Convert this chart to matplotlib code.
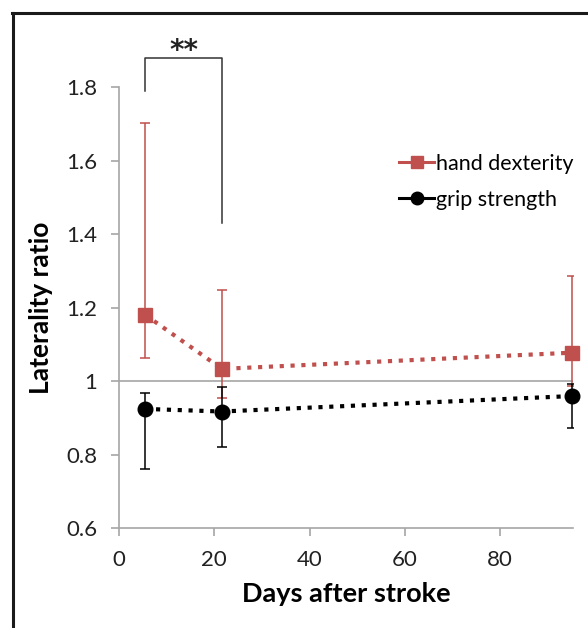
import matplotlib
matplotlib.use('Agg')
import matplotlib.pyplot as plt
from matplotlib.lines import Line2D

plt.rcParams['font.family'] = ['Lato', 'DejaVu Sans']

# data
days = [5.5, 21.6, 95]
dex = [1.18, 1.033, 1.077]
dex_lo = [1.063, 0.954, 0.986]
dex_hi = [1.702, 1.247, 1.287]
grip = [0.924, 0.917, 0.959]
grip_lo = [0.760, 0.821, 0.871]
grip_hi = [0.968, 0.985, 0.992]
xticks = [0, 20, 40, 60, 80]
yticks = [0.6, 0.8, 1.0, 1.2, 1.4, 1.6, 1.8]
ylabels = ['0.6', '0.8', '1', '1.2', '1.4', '1.6', '1.8']

RED = '#c0504d'
GRAY = '#a6a6a6'

fig = plt.figure(figsize=(5.88, 6.28), dpi=100)
ax = fig.add_axes([119/588, 1-528/628, (573-119)/588, (528-87)/628])

# reference line at 1
ax.axhline(1.0, color=GRAY, lw=1.2, zorder=1)

def err(vals, lo, hi):
    return [[v - l for v, l in zip(vals, lo)], [h - v for v, h in zip(vals, hi)]]

ax.errorbar(days, dex, yerr=err(dex, dex_lo, dex_hi), fmt='none', ecolor=RED,
            elinewidth=1.1, capsize=3.5, capthick=1.1, zorder=2)
ax.errorbar(days, grip, yerr=err(grip, grip_lo, grip_hi), fmt='none', ecolor='black',
            elinewidth=1.1, capsize=3.5, capthick=1.1, zorder=2)
ax.plot(days, dex, ls=(0, (1, 1.6)), lw=3, color=RED, zorder=3)
ax.plot(days, grip, ls=(0, (1, 1.6)), lw=3, color='black', zorder=3)
ax.plot(days, dex, ls='none', marker='s', ms=10, color=RED, zorder=4, clip_on=False)
ax.plot(days, grip, ls='none', marker='o', ms=10.5, color='black', zorder=4, clip_on=False)

ax.set_xlim(0, 95.3)
ax.set_ylim(0.6, 1.8)
ax.set_xticks(xticks)
ax.set_yticks(yticks)
ax.set_yticklabels(ylabels)
for s in ['top', 'right']:
    ax.spines[s].set_visible(False)
for s in ['left', 'bottom']:
    ax.spines[s].set_color(GRAY)
    ax.spines[s].set_linewidth(1.2)
ax.tick_params(axis='both', colors=GRAY, labelcolor='#222222', labelsize=16,
               length=5.5, width=1.2, pad=10)
ax.set_xlabel('Days after stroke', fontsize=19.5, fontweight='bold', labelpad=9)
ax.set_ylabel('Laterality ratio', fontsize=19, fontweight='bold')
ax.yaxis.set_label_coords(-0.145, 0.5)

# significance bracket
ax.plot([days[0], days[0], days[1], days[1]], [1.789, 1.879, 1.879, 1.43],
        color='#333333', lw=1.1, clip_on=False)
ax.text((days[0] + days[1]) / 2, 1.876, '**', ha='center', va='baseline',
        fontsize=20, fontweight='bold', color='#222222', family='DejaVu Sans')

handles = [Line2D([], [], color=RED, marker='s', ms=9, lw=2.2),
           Line2D([], [], color='black', marker='o', ms=9, lw=2.2)]
ax.legend(handles, ['hand dexterity', 'grip strength'], loc='upper left',
          bbox_to_anchor=(0.575, 0.893), frameon=False, fontsize=15.5,
          handlelength=1.6, handletextpad=0.1, labelspacing=0.75)

# partial frame (left and top) around the figure
fig.add_artist(Line2D([13/588, 13/588], [0, 1-13/628], color='#1a1a1a', lw=2.2))
fig.add_artist(Line2D([12/588, 1], [1-13/628, 1-13/628], color='#1a1a1a', lw=2.2))

fig.savefig('out.png', dpi=100)
